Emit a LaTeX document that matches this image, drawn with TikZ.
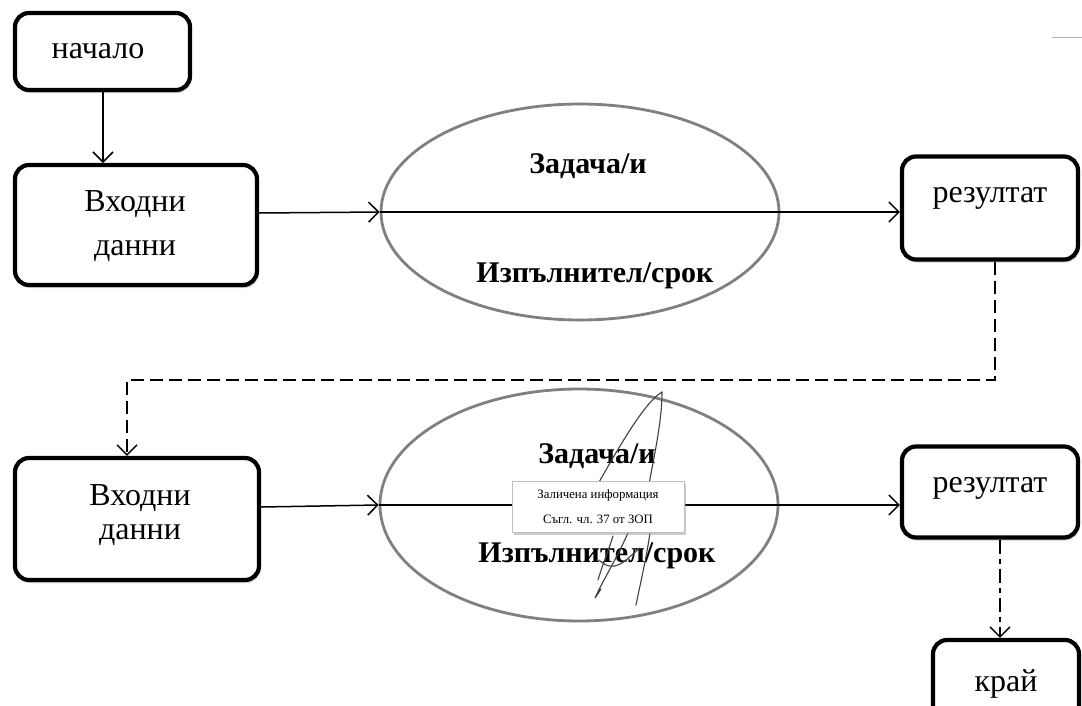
\documentclass[tikz,border=0pt]{standalone}
\usepackage{fontspec}
\setmainfont{Liberation Serif}
\usetikzlibrary{arrows.meta,shadows,shapes.geometric}
\tikzset{
  box/.style={draw=black, line width=4.2pt, rounded corners=14pt, fill=white,
    drop shadow={shadow xshift=1.5pt, shadow yshift=-3pt, fill=black!30, opacity=0.6},
    minimum width=#1},
  ell/.style={draw=black!50, line width=2.8pt, ellipse, inner sep=0pt},
  lbl/.style={font=\fontsize{32}{38}\selectfont, inner sep=0pt},
  blbl/.style={font=\fontsize{30}{36}\selectfont\bfseries, inner sep=0pt},
  arr/.style={draw=black, line width=1.5pt, -{Straight Barb[length=10pt,width=20pt,line width=1.5pt]}},
  darr/.style={arr, dash pattern=on 13pt off 6pt},
  sig/.style={draw=black!75, line width=1.1pt, line cap=round},
  redbox/.style={draw=black!25, line width=0.6pt, fill=white, inner sep=0pt,
    drop shadow={shadow xshift=2pt, shadow yshift=-2pt, fill=black!40, opacity=0.5},
    minimum width=172pt, minimum height=51pt, align=center,
    font=\fontsize{12.8}{25}\selectfont}
}
\begin{document}
\begin{tikzpicture}[x=1pt,y=-1pt]
\useasboundingbox (0,0) rectangle (1082,705);
\fill[white] (0,0) rectangle (1082,705);
% scan artefact top right
\draw[black!30, line width=1pt] (1052,37) -- (1082,37);

% boxes
\node[box=175pt, minimum height=77pt] (start) at (102.5,51.5) {};
\node[lbl] (startt) at (98,51) {начало};
\node[box=242pt, minimum height=120pt] (in1) at (136,225) {};
\node[lbl, align=center] (in1t) at (135,226) {Входни\\[6pt]данни};
\node[box=176pt, minimum height=103pt] (res1) at (990,208) {};
\node[lbl] (res1t) at (990,198) {резултат};

\node[box=244pt, minimum height=122pt] (in2) at (137,519) {};
\node[lbl, align=center] (in2t) at (140,515) {Входни\\[-4pt]данни};
\node[box=176pt, minimum height=91pt] (res2) at (990,492) {};
\node[lbl] (res2t) at (990,488) {резултат};
\node[box=146pt, minimum height=82pt] (end) at (1006,681) {};
\node[lbl] (endt) at (1006,684) {край};

% ellipses
\node[ell, minimum width=398pt, minimum height=216pt] (ell1) at (580,212) {};
\node[blbl] (ell1a) at (588,166) {Задача/и};
\node[blbl] (ell1b) at (595,276) {Изпълнител/срок};
\node[ell, minimum width=398pt, minimum height=232pt] (ell2) at (579,505) {};
\node[blbl] (ell2a) at (597,456) {Задача/и};
\node[blbl] (ell2b) at (597,556) {Изпълнител/срок};

% connectors
\draw[arr] (start.south -| 103,0) -- (103,163);
\draw[arr] ([yshift=12pt]in1.east) -- (ell1.west);
\draw[arr] (ell1.west) -- (res1.west |- ell1.west);

\coordinate (turn) at (0,380);
\draw[darr] ([xshift=5pt]res1.south) |- ([xshift=-10pt]in2.north |- turn) -- ([xshift=-10pt]in2.north);

\draw[arr] ([yshift=12pt]in2.east) -- (ell2.west);
\draw[arr] (ell2.west) -- (res2.west |- ell2.west);
\draw[arr, dash pattern=on 14pt off 5pt on 5pt off 5pt] ([xshift=10pt]res2.south) -- ([xshift=10pt]res2.south |- end.north);

% signature
\draw[sig] (598,484) .. controls (620,445) and (645,402) .. (662,392);
\draw[sig] (662,392) .. controls (662,420) and (655,452) .. (649,484);
\draw[sig] (628,533) .. controls (616,560) and (602,582) .. (595,598) -- (601,589);
\draw[sig] (613,536) .. controls (608,552) and (602,566) .. (598,580);
\draw[sig] (650,533) .. controls (646,560) and (640,585) .. (636,605);
\draw[sig] (599,560) .. controls (615,575) and (625,560) .. (640,548);

% redaction label
\node[redbox] (red) at (598,507) {Заличена информация\\Съгл. чл. 37 от ЗОП};
\end{tikzpicture}
\end{document}
